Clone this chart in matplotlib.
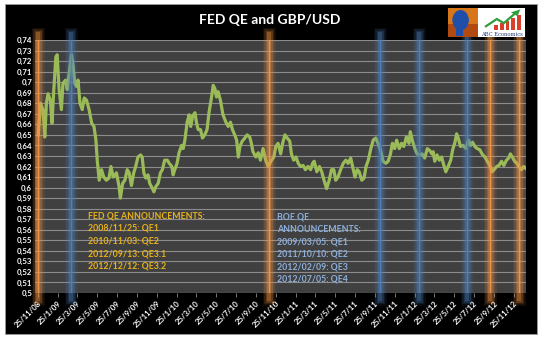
import numpy as np
import pandas as pd
import matplotlib
matplotlib.use("Agg")
import matplotlib.pyplot as plt
from matplotlib.patches import Rectangle, Ellipse, Polygon

plt.rcParams["font.family"] = ["Lato", "DejaVu Sans"]

# USD -> GBP rate
dates = [
    "2008-11-26", "2008-12-03", "2008-12-11", "2008-12-16", "2008-12-21", "2008-12-26",
    "2009-01-02", "2009-01-07", "2009-01-12", "2009-01-19", "2009-01-23", "2009-01-29",
    "2009-02-05", "2009-02-10", "2009-02-18", "2009-02-23", "2009-03-01", "2009-03-08",
    "2009-03-13", "2009-03-18", "2009-03-23", "2009-03-28", "2009-04-03", "2009-04-10",
    "2009-04-16", "2009-04-23", "2009-05-01", "2009-05-09", "2009-05-16", "2009-05-22",
    "2009-05-26", "2009-06-01", "2009-06-08", "2009-06-15", "2009-06-23", "2009-07-01",
    "2009-07-07", "2009-07-14", "2009-07-24", "2009-08-01", "2009-08-05", "2009-08-12",
    "2009-08-19", "2009-08-26", "2009-09-01", "2009-09-08", "2009-09-15", "2009-09-21",
    "2009-09-28", "2009-10-06", "2009-10-11", "2009-10-16", "2009-10-22", "2009-10-29",
    "2009-11-03", "2009-11-10", "2009-11-16", "2009-11-22", "2009-11-29", "2009-12-06",
    "2009-12-12", "2009-12-19", "2009-12-27", "2010-01-02", "2010-01-10", "2010-01-14",
    "2010-01-19", "2010-01-26", "2010-02-01", "2010-02-09", "2010-02-14", "2010-02-19",
    "2010-02-26", "2010-03-04", "2010-03-09", "2010-03-15", "2010-03-22", "2010-03-27",
    "2010-04-01", "2010-04-08", "2010-04-14", "2010-04-21", "2010-04-28", "2010-05-04",
    "2010-05-12", "2010-05-17", "2010-05-22", "2010-05-27", "2010-06-01", "2010-06-08",
    "2010-06-16", "2010-06-25", "2010-07-02", "2010-07-09", "2010-07-15", "2010-07-22",
    "2010-07-28", "2010-08-02", "2010-08-07", "2010-08-14", "2010-08-22", "2010-08-29",
    "2010-09-06", "2010-09-11", "2010-09-16", "2010-09-25", "2010-10-02", "2010-10-09",
    "2010-10-17", "2010-10-25", "2010-11-02", "2010-11-07", "2010-11-12", "2010-11-19",
    "2010-11-25", "2010-12-02", "2010-12-10", "2010-12-16", "2010-12-23", "2010-12-30",
    "2011-01-07", "2011-01-12", "2011-01-19", "2011-01-26", "2011-02-02", "2011-02-09",
    "2011-02-17", "2011-02-24", "2011-03-04", "2011-03-12", "2011-03-18", "2011-03-23",
    "2011-03-31", "2011-04-08", "2011-04-15", "2011-04-22", "2011-04-30", "2011-05-08",
    "2011-05-15", "2011-05-22", "2011-05-28", "2011-06-04", "2011-06-12", "2011-06-20",
    "2011-06-28", "2011-07-05", "2011-07-13", "2011-07-21", "2011-07-26", "2011-08-02",
    "2011-08-08", "2011-08-16", "2011-08-23", "2011-08-29", "2011-09-05", "2011-09-12",
    "2011-09-20", "2011-09-28", "2011-10-05", "2011-10-12", "2011-10-20", "2011-10-29",
    "2011-11-05", "2011-11-12", "2011-11-18", "2011-11-25", "2011-12-01", "2011-12-09",
    "2011-12-16", "2011-12-23", "2011-12-31", "2012-01-08", "2012-01-12", "2012-01-18",
    "2012-01-26", "2012-02-02", "2012-02-10", "2012-02-17", "2012-02-25", "2012-03-04",
    "2012-03-12", "2012-03-18", "2012-03-22", "2012-03-27", "2012-04-03", "2012-04-10",
    "2012-04-17", "2012-04-24", "2012-04-30", "2012-05-07", "2012-05-15", "2012-05-21",
    "2012-05-28", "2012-06-02", "2012-06-07", "2012-06-14", "2012-06-22", "2012-07-01",
    "2012-07-08", "2012-07-15", "2012-07-21", "2012-07-28", "2012-08-04", "2012-08-12",
    "2012-08-21", "2012-08-28", "2012-09-04", "2012-09-12", "2012-09-19", "2012-09-25",
    "2012-10-03", "2012-10-10", "2012-10-18", "2012-10-25", "2012-11-02", "2012-11-09",
    "2012-11-14", "2012-11-20", "2012-11-27", "2012-12-04", "2012-12-10", "2012-12-18",
    "2012-12-25", "2013-01-01",
]
rate = [
    0.650, 0.680, 0.673, 0.648, 0.680, 0.689,
    0.683, 0.661, 0.689, 0.724, 0.726, 0.693,
    0.674, 0.699, 0.702, 0.693, 0.709, 0.726,
    0.715, 0.699, 0.696, 0.702, 0.680, 0.674,
    0.685, 0.683, 0.674, 0.661, 0.658, 0.645,
    0.626, 0.607, 0.617, 0.610, 0.607, 0.609,
    0.620, 0.610, 0.614, 0.601, 0.590, 0.604,
    0.607, 0.617, 0.614, 0.602, 0.614, 0.620,
    0.629, 0.631, 0.629, 0.614, 0.609, 0.612,
    0.604, 0.600, 0.596, 0.601, 0.604, 0.614,
    0.617, 0.626, 0.626, 0.623, 0.620, 0.612,
    0.617, 0.623, 0.633, 0.640, 0.637, 0.645,
    0.662, 0.669, 0.658, 0.668, 0.671, 0.661,
    0.655, 0.655, 0.647, 0.650, 0.655, 0.671,
    0.686, 0.697, 0.694, 0.686, 0.691, 0.683,
    0.669, 0.662, 0.658, 0.662, 0.655, 0.650,
    0.645, 0.629, 0.639, 0.644, 0.647, 0.650,
    0.648, 0.642, 0.634, 0.629, 0.633, 0.626,
    0.637, 0.626, 0.620, 0.623, 0.626, 0.629,
    0.639, 0.642, 0.632, 0.642, 0.650, 0.647,
    0.644, 0.632, 0.626, 0.629, 0.623, 0.620,
    0.621, 0.617, 0.620, 0.617, 0.623, 0.625,
    0.615, 0.620, 0.615, 0.607, 0.599, 0.607,
    0.617, 0.617, 0.607, 0.610, 0.617, 0.623,
    0.626, 0.623, 0.628, 0.617, 0.610, 0.617,
    0.615, 0.607, 0.609, 0.620, 0.626, 0.636,
    0.645, 0.647, 0.642, 0.636, 0.625, 0.623,
    0.625, 0.632, 0.642, 0.637, 0.645, 0.637,
    0.642, 0.639, 0.648, 0.642, 0.653, 0.645,
    0.637, 0.632, 0.631, 0.632, 0.628, 0.637,
    0.635, 0.632, 0.634, 0.625, 0.631, 0.626,
    0.629, 0.621, 0.615, 0.620, 0.626, 0.636,
    0.643, 0.651, 0.647, 0.639, 0.640, 0.637,
    0.645, 0.640, 0.643, 0.639, 0.637, 0.636,
    0.631, 0.629, 0.625, 0.621, 0.615, 0.617,
    0.620, 0.621, 0.625, 0.621, 0.626, 0.628,
    0.632, 0.629, 0.625, 0.623, 0.620, 0.617,
    0.620, 0.618,
]

fed_dates = ["2008-11-25", "2010-11-03", "2012-09-13", "2012-12-12"]
fed_labels = ["QE1", "QE2", "QE3.1", "QE3.2"]
boe_dates = ["2009-03-05", "2011-10-10", "2012-02-09", "2012-07-05"]
boe_labels = ["QE1", "QE2", "QE3", "QE4"]

tick_labels = ["25/11/08", "25/1/09", "25/3/09", "25/5/09", "25/7/09", "25/9/09",
               "25/11/09", "25/1/10", "25/3/10", "25/5/10", "25/7/10", "25/9/10",
               "25/11/10", "25/1/11", "25/3/11", "25/5/11", "25/7/11", "25/9/11",
               "25/11/11", "25/1/12", "25/3/12", "25/5/12", "25/7/12", "25/9/12",
               "25/11/12"]

ORANGE = "#F79646"
BLUE = "#4F81BD"
GREEN = "#9BBB59"
FED_TXT = "#E8B21C"
BOE_TXT = "#8DB0DD"

W, H = 547, 341
fig = plt.figure(figsize=(W / 100, H / 100), dpi=100, facecolor="white")

# black chart frame (behind everything)
fig.patches.append(Rectangle((5 / W, 1 - 334 / H), 532 / W, 330 / H,
                             transform=fig.transFigure, facecolor="black",
                             edgecolor="#9a9a9a", lw=0.6, zorder=-5))

ax = fig.add_axes([35 / W, 1 - 293 / H, 491 / W, 253 / H])
ax.set_facecolor("#404040")

x = pd.to_datetime(dates)
ax.plot(x, rate, color=GREEN, lw=2.3, zorder=3, solid_joinstyle="round")


def glow(d, color):
    for lw, a in [(9, 0.10), (7, 0.14), (5, 0.2), (3, 0.3)]:
        ax.axvline(d, ymin=-0.025, ymax=1.025, color=color, lw=lw, alpha=a,
                   zorder=4, clip_on=False)
    ax.axvline(d, color=color, lw=0.9, alpha=0.9, zorder=4)


for d in fed_dates:
    glow(pd.Timestamp(d), ORANGE)
for d in boe_dates:
    glow(pd.Timestamp(d), BLUE)

ax.set_xlim(pd.Timestamp("2008-11-16"), pd.Timestamp("2013-01-01"))
ax.set_ylim(0.5, 0.74)
ax.set_yticks(np.arange(0.50, 0.7401, 0.01))
ax.yaxis.set_major_formatter(
    matplotlib.ticker.FuncFormatter(lambda v, p: f"{round(v, 2):g}".replace(".", ",")))
ax.grid(axis="y", color="#8c8c8c", lw=0.8, zorder=1)
ax.set_axisbelow(True)

tick_pos = pd.to_datetime(tick_labels, format="%d/%m/%y")
ax.set_xticks(tick_pos)
ax.set_xticklabels(tick_labels, rotation=45, ha="right", rotation_mode="anchor")
ax.tick_params(axis="x", colors="#8c8c8c", labelcolor="white", labelsize=5.6,
               length=3, width=0.6, pad=2)
ax.tick_params(axis="y", length=0, labelcolor="white", labelsize=5.6, pad=2)
for lab in ax.get_yticklabels() + ax.get_xticklabels():
    lab.set_fontweight("bold")
for s in ax.spines.values():
    s.set_visible(False)

fig.text(270 / W, 1 - 20 / H, "FED QE and GBP/USD", color="white",
         fontsize=10, fontweight="bold", ha="center", va="center")

# announcement notes
fed_lines = ["FED QE ANNOUNCEMENTS:"] + [
    f"{d.replace('-', '/')}: {l}" for d, l in zip(fed_dates, fed_labels)]
for i, t in enumerate(fed_lines):
    fig.text(88 / W, 1 - (216 + i * 12.5) / H, t, color=FED_TXT, fontsize=6.3,
             fontweight="bold", ha="left", va="center")
boe_lines = ["BOE QE", "ANNOUNCEMENTS:"] + [
    f"{d.replace('-', '/')}: {l}" for d, l in zip(boe_dates, boe_labels)]
for i, t in enumerate(boe_lines):
    fig.text(277 / W, 1 - (216.7 + i * 12.5) / H, t, color=BOE_TXT, fontsize=6.3,
             fontweight="bold", ha="left", va="center")

# logo
lg = fig.add_axes([448 / W, 1 - 37 / H, 30 / W, 29 / H])
lg.set_xlim(0, 1)
lg.set_ylim(0, 1)
lg.axis("off")
lg.add_patch(Rectangle((0, 0), 1, 1, facecolor="#D8761A"))
lg.add_patch(Rectangle((0, 0), 1, 0.45, facecolor="#B04A10"))
lg.add_patch(Ellipse((0.42, 0.58), 0.55, 0.7, facecolor="#1F4FA8"))
lg.add_patch(Rectangle((0.28, 0.05), 0.22, 0.3, facecolor="#1F4FA8"))

lr = fig.add_axes([478 / W, 1 - 37 / H, 47 / W, 29 / H])
lr.set_xlim(0, 1)
lr.set_ylim(0, 1)
lr.axis("off")
lr.add_patch(Rectangle((0, 0), 1, 1, facecolor="white"))
for bx, bh in zip([0.35, 0.47, 0.59, 0.71, 0.83], [0.15, 0.22, 0.3, 0.4, 0.5]):
    lr.add_patch(Rectangle((bx, 0.25), 0.08, bh, facecolor="#D9402B"))
lr.add_patch(Polygon([[0.15, 0.35], [0.4, 0.62], [0.55, 0.48], [0.78, 0.8]],
                     closed=False, fill=False, edgecolor="#2E9E3A", lw=1.6))
lr.add_patch(Polygon([[0.7, 0.85], [0.9, 0.95], [0.84, 0.72]], facecolor="#2E9E3A"))
lr.text(0.5, 0.1, "ABC Economics", color="#1F3A7A", fontsize=3.8,
        ha="center", va="center", family="DejaVu Serif")

fig.savefig("out.png", dpi=100, facecolor="white")
